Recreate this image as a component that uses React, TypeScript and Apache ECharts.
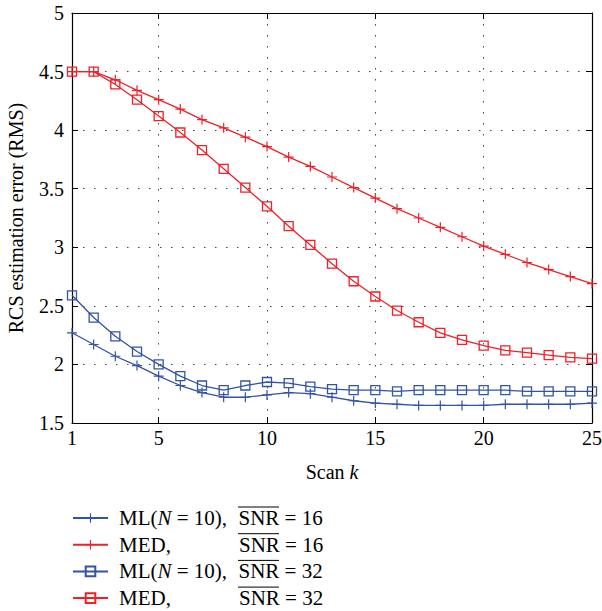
import React, { useEffect, useRef } from 'react';
import * as echarts from 'echarts';

const scans = ['1','2','3','4','5','6','7','8','9','10','11','12','13','14','15','16','17','18','19','20','21','22','23','24','25'];
const labeledScans = [1, 5, 10, 15, 20, 25];

const mlSnr16 = [2.27,2.17,2.07,1.99,1.90,1.82,1.76,1.72,1.72,1.74,1.76,1.75,1.72,1.69,1.67,1.66,1.65,1.65,1.65,1.65,1.66,1.66,1.66,1.66,1.67];
const medSnr16 = [4.50,4.50,4.43,4.34,4.26,4.18,4.09,4.02,3.94,3.86,3.77,3.69,3.60,3.51,3.42,3.33,3.25,3.17,3.09,3.01,2.94,2.87,2.81,2.75,2.69];
const mlSnr32 = [2.59,2.40,2.24,2.11,2.00,1.90,1.82,1.78,1.82,1.85,1.84,1.81,1.79,1.78,1.78,1.77,1.78,1.78,1.78,1.78,1.78,1.77,1.77,1.77,1.77];
const medSnr32 = [4.50,4.50,4.39,4.26,4.12,3.98,3.83,3.67,3.51,3.35,3.18,3.02,2.86,2.71,2.58,2.46,2.36,2.27,2.21,2.16,2.12,2.10,2.08,2.06,2.05];

const yMin = 1.5;
const yMax = 5;
const yStep = 0.5;

const seriesNames = ['ML16', 'MED16', 'ML32', 'MED32'];
const legendTexts: Record<string, string> = {
  ML16: '{a|ML(}{i|N}{b| = 10),}{s|SNR = 16}',
  MED16: '{c|MED,}{s|SNR = 16}',
  ML32: '{a|ML(}{i|N}{b| = 10),}{s|SNR = 32}',
  MED32: '{c|MED,}{s|SNR = 32}',
};

const FONT = "'Liberation Serif', 'Times New Roman', serif";
const RED = '#ee2028';
const BLUE = '#3253a6';
const PLUS = 'path://M4.4,0H5.6V4.4H10V5.6H5.6V10H4.4V5.6H0V4.4H4.4Z';

const isLabeled = (_i: number, v: string) => labeledScans.includes(Number(v));

export default function App() {
  const ref = useRef<HTMLDivElement>(null);
  useEffect(() => {
    document.body.style.margin = '0';
    if (!ref.current) return;
    const chart = echarts.init(ref.current, undefined, { renderer: 'svg' });

    const LF = 21;
    const rowH = 21;
    const rowGap = 5.7;
    const legendTop = 507.5;
    const snrX = 238;
    const snrW = 41;
    const overlines = seriesNames.map((_, k) => {
      const y = legendTop + k * (rowH + rowGap) - 0.5;
      return {
        type: 'line',
        shape: { x1: snrX, y1: y, x2: snrX + snrW, y2: y },
        style: { stroke: '#000', lineWidth: 1 },
      };
    });

    const mk = (name: string, data: number[], color: string, square: boolean) => ({
      name,
      type: 'line',
      data,
      xAxisIndex: 0,
      yAxisIndex: 0,
      symbol: square ? 'rect' : PLUS,
      symbolSize: square ? 9 : 10,
      showSymbol: true,
      lineStyle: { color, width: 1.3 },
      itemStyle: square
        ? { color: 'none', borderColor: color, borderWidth: 1.3 }
        : { color, borderWidth: 0 },
      emphasis: { disabled: true },
      z: square ? 3 : 2,
    });

    chart.setOption({
      animation: false,
      backgroundColor: '#fff',
      grid: { left: 72, right: 10, top: 13, bottom: 188, outerBoundsMode: 'none' },
      xAxis: [
        {
          type: 'category',
          data: scans,
          boundaryGap: false,
          position: 'bottom',
          axisLine: { show: true, lineStyle: { color: '#000', width: 1.2 } },
          axisTick: { show: true, inside: true, length: 6, interval: isLabeled, lineStyle: { color: '#000' } },
          axisLabel: { interval: isLabeled, color: '#000', fontSize: 20, fontFamily: FONT, margin: 5 },
          splitLine: { show: true, interval: isLabeled, lineStyle: { type: [1.5, 9.5], color: '#444', width: 1 } },
          name: '{n|Scan }{k|k}',
          nameLocation: 'middle',
          nameGap: 39,
          nameTextStyle: {
            rich: {
              n: { fontSize: 20, fontFamily: FONT, color: '#000' },
              k: { fontSize: 20, fontFamily: FONT, color: '#000', fontStyle: 'italic' },
            },
          },
        },
        {
          type: 'category',
          data: scans,
          boundaryGap: false,
          position: 'top',
          axisLine: { show: true, lineStyle: { color: '#000', width: 1.2 } },
          axisTick: { show: true, inside: true, length: 6, interval: isLabeled, lineStyle: { color: '#000' } },
          axisLabel: { show: false },
          splitLine: { show: false },
        },
      ],
      yAxis: [
        {
          type: 'value',
          min: yMin,
          max: yMax,
          interval: yStep,
          position: 'left',
          axisLine: { show: true, lineStyle: { color: '#000', width: 1.2 } },
          axisTick: { show: true, inside: true, length: 6, lineStyle: { color: '#000' } },
          axisLabel: { color: '#000', fontSize: 20, fontFamily: FONT, margin: 8 },
          splitLine: { show: true, lineStyle: { type: [1.5, 9.5], color: '#444', width: 1 } },
          name: 'RCS estimation error (RMS)',
          nameLocation: 'middle',
          nameGap: 46,
          nameTextStyle: { fontSize: 20, fontFamily: FONT, color: '#000' },
        },
        {
          type: 'value',
          min: yMin,
          max: yMax,
          interval: yStep,
          position: 'right',
          axisLine: { show: true, lineStyle: { color: '#000', width: 1.2 } },
          axisTick: { show: true, inside: true, length: 6, lineStyle: { color: '#000' } },
          axisLabel: { show: false },
          splitLine: { show: false },
        },
      ],
      legend: {
        orient: 'vertical',
        left: 72,
        top: legendTop,
        padding: 0,
        height: 110,
        itemWidth: 35,
        itemHeight: 12,
        itemGap: rowGap,
        data: seriesNames,
        selectedMode: false,
        formatter: (name: string) => legendTexts[name],
        textStyle: {
          fontSize: LF,
          fontFamily: FONT,
          color: '#000',
          lineHeight: rowH,
          rich: {
            a: { fontSize: LF, fontFamily: FONT, color: '#000', lineHeight: rowH, padding: [0, 0, 0, 6] },
            i: { fontSize: LF, fontFamily: FONT, color: '#000', lineHeight: rowH, fontStyle: 'italic' },
            b: { fontSize: LF, fontFamily: FONT, color: '#000', lineHeight: rowH, width: 67 },
            c: { fontSize: LF, fontFamily: FONT, color: '#000', lineHeight: rowH, width: 120, padding: [0, 0, 0, 6] },
            s: { fontSize: LF, fontFamily: FONT, color: '#000', lineHeight: rowH },
          },
        },
      },
      graphic: overlines,
      series: [
        mk('ML16', mlSnr16, BLUE, false),
        mk('MED16', medSnr16, RED, false),
        mk('ML32', mlSnr32, BLUE, true),
        mk('MED32', medSnr32, RED, true),
      ],
    });
    return () => chart.dispose();
  }, []);
  return <div ref={ref} style={{ width: 602, height: 611 }} />;
}
